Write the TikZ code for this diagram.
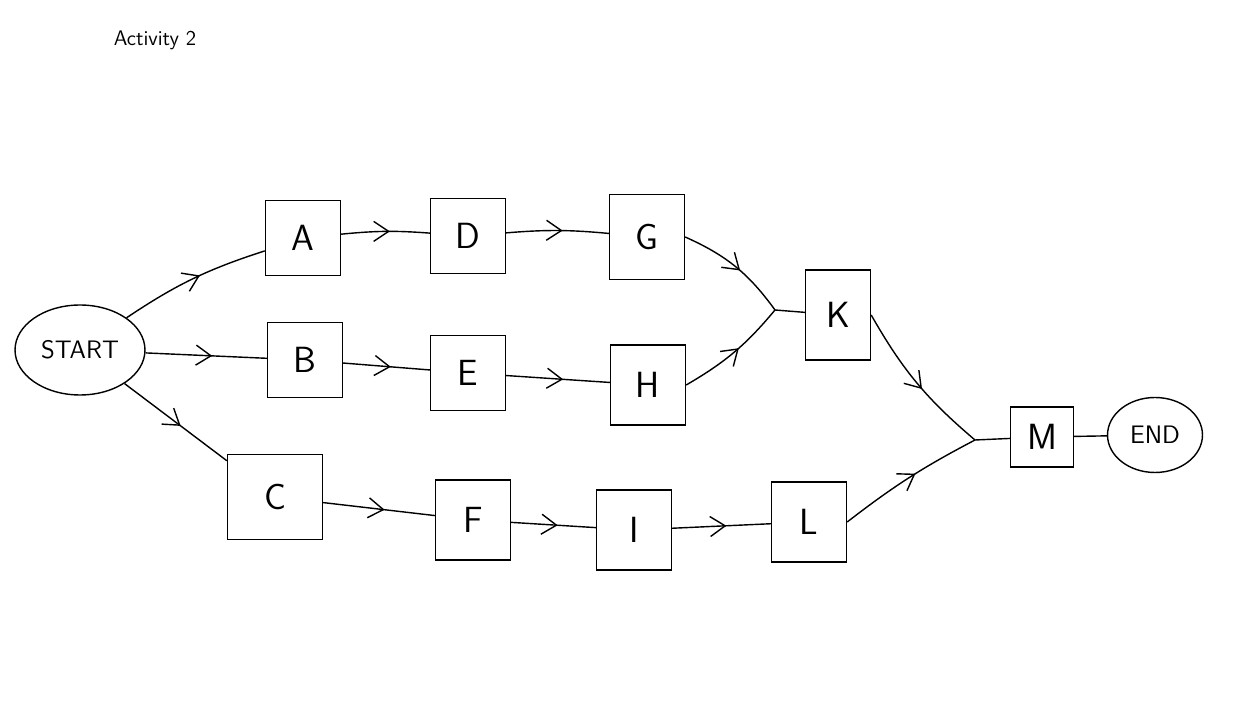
\documentclass[tikz,border=0pt]{standalone}
\usetikzlibrary{decorations.markings,arrows.meta,shapes.geometric}
\begin{document}
\begin{tikzpicture}[x=0.02cm,y=-0.02cm,
  box/.style={draw,thick,minimum width=1.5cm,minimum height=1.5cm,font=\huge\sffamily},
  flow/.style={thick,postaction={decorate},decoration={markings,mark=at position 0.55 with {\arrow{Straight Barb[length=3mm,width=4mm]}}}},
  plain/.style={thick}]
\useasboundingbox (0,0) rectangle (1242,705);
\node[font=\large\sffamily] (title) at (155,40) {Activity 2};
\node[draw,thick,ellipse,minimum width=2.6cm,minimum height=1.8cm,font=\Large\sffamily] (S) at (80,350) {START};
\node[box] (A) at (303,238) {A};
\node[box] (D) at (468,236) {D};
\node[box,minimum height=1.7cm] (G) at (647,237) {G};
\node[box] (B) at (305,360) {B};
\node[box] (E) at (468,373) {E};
\node[box,minimum height=1.6cm] (H) at (648,385) {H};
\node[box,minimum width=1.9cm,minimum height=1.7cm] (C) at (275,497) {C};
\node[box,minimum height=1.6cm] (F) at (473,520) {F};
\node[box,minimum height=1.6cm] (I) at (634,530) {I};
\node[box,minimum height=1.6cm] (L) at (809,522) {L};
\node[box,minimum width=1.3cm,minimum height=1.8cm] (K) at (838,315) {K};
\node[box,minimum width=1.25cm,minimum height=1.2cm] (M) at (1042,437) {M};
\node[draw,thick,ellipse,minimum width=1.9cm,minimum height=1.5cm,font=\Large\sffamily] (END) at (1155,435) {END};
\coordinate (k1) at (775,310);
\coordinate (m1) at (975,440);
\draw[flow] (S) to[bend left=8] (A);
\draw[flow] (S) -- (B);
\draw[flow] (S) -- (C);
\draw[flow] (A) to[bend left=5] (D);
\draw[flow] (D) to[bend left=5] (G);
\draw[flow] (B) -- (E);
\draw[flow] (E) -- (H);
\draw[flow] (C) -- (F);
\draw[flow] (F) -- (I);
\draw[flow] (I) -- (L);
\draw[flow] (G.east) to[bend left=15] (k1);
\draw[flow] (H.east) to[bend right=10] (k1);
\draw[plain] (k1) -- (K);
\draw[flow] (K.east) to[bend right=10] (m1);
\draw[flow] (L.east) to[bend left=5] (m1);
\draw[plain] (m1) -- (M);
\draw[plain] (M) -- (END);
\end{tikzpicture}
\end{document}
